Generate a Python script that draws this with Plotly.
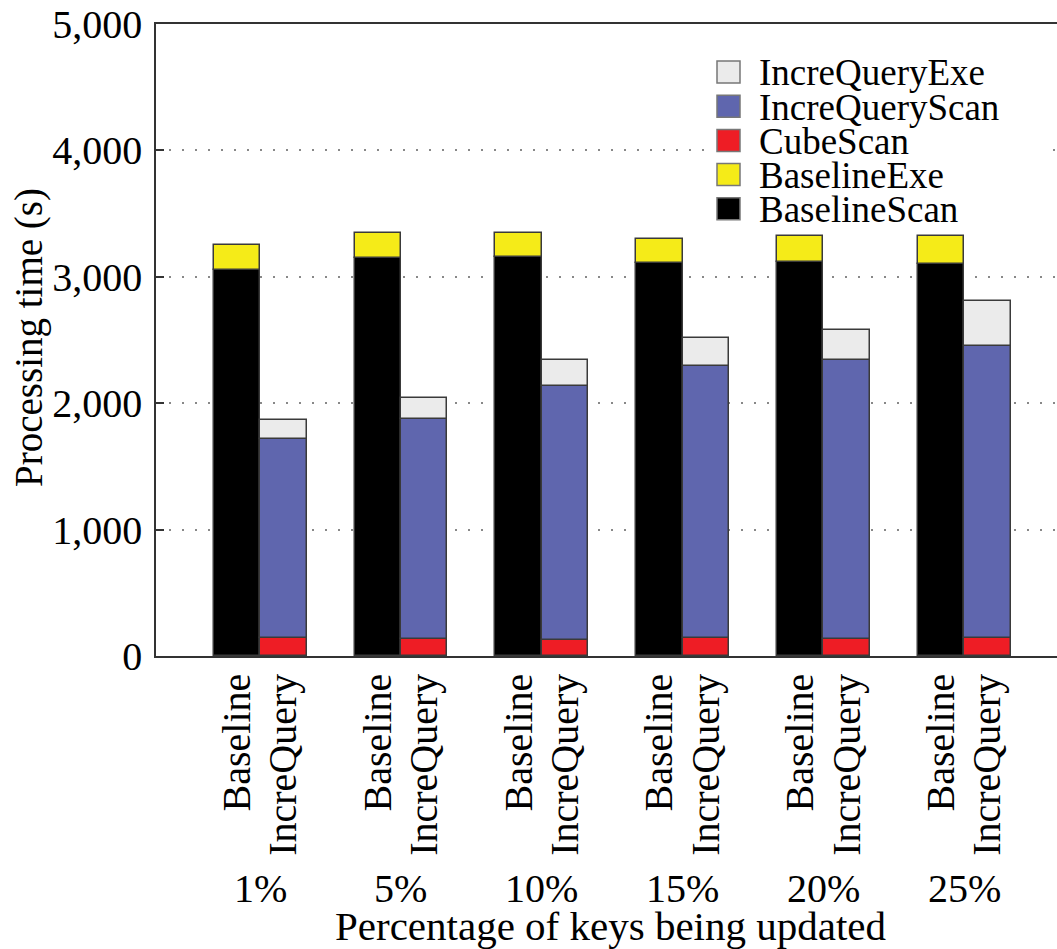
import plotly.graph_objects as go

# Percentage of keys being updated (one group per value)
pcts = ["1%", "5%", "10%", "15%", "20%", "25%"]

# Baseline bar components (seconds)
baseline_scan = [3050, 3150, 3160, 3110, 3120, 3105]
baseline_exe = [205, 195, 190, 190, 205, 215]

# IncreQuery bar components (seconds)
cube_scan = [140, 132, 127, 139, 134, 145]
incre_scan = [1578, 1742, 2011, 2152, 2210, 2304]
incre_exe = [151, 166, 203, 222, 232, 362]

bar_labels = ["Baseline", "IncreQuery"]
y_ticks = [0, 1000, 2000, 3000, 4000, 5000]

colors = {
    "BaselineScan": "#000000",
    "BaselineExe": "#F5EB18",
    "CubeScan": "#EE1D25",
    "IncreQueryScan": "#5F66AE",
    "IncreQueryExe": "#EBEBEB",
}

FONT = "Liberation Serif"
W, H = 1057, 949
L, R, T, B = 156, 0, 24, 293
PW, PH = W - L - R, H - T - B

half = 0.165
bw = 0.33
groups = list(range(len(pcts)))
xb = [g - half for g in groups]
xi = [g + half for g in groups]

fig = go.Figure()
line = dict(color="#3a3a3a", width=1.5)
series = [
    ("BaselineScan", xb, baseline_scan),
    ("BaselineExe", xb, baseline_exe),
    ("CubeScan", xi, cube_scan),
    ("IncreQueryScan", xi, incre_scan),
    ("IncreQueryExe", xi, incre_exe),
]
for name, xs, ys in series:
    fig.add_trace(go.Bar(
        x=xs, y=ys, name=name, width=bw,
        marker=dict(color=colors[name], line=line),
        showlegend=False,
    ))


def px_x(px):
    return (px - L) / PW


def px_y(py):
    return (H - B - py) / PH


shapes = []
annotations = []

# Legend drawn as boxes plus labels, top to bottom
legend_order = ["IncreQueryExe", "IncreQueryScan", "CubeScan", "BaselineExe", "BaselineScan"]
# white panel behind the legend so the grid dots stop at its edge
shapes.append(dict(type="rect", xref="paper", yref="paper",
                   x0=px_x(706), x1=px_x(1045), y0=px_y(226), y1=px_y(52),
                   fillcolor="white", line=dict(width=0), layer="above"))
row0, step = 72, 34.2
for k, name in enumerate(legend_order):
    cy = row0 + k * step
    shapes.append(dict(type="rect", xref="paper", yref="paper",
                       x0=px_x(717), x1=px_x(740), y0=px_y(cy + 11), y1=px_y(cy - 11),
                       fillcolor=colors[name], line=dict(color="#777777", width=1.5),
                       layer="above"))
    annotations.append(dict(text=name, xref="paper", yref="paper",
                            x=px_x(757), y=px_y(cy + 1), xanchor="left", yanchor="middle",
                            showarrow=False, font=dict(family=FONT, size=37, color="black")))

# Group labels under the rotated bar labels
for g, p in zip(groups, pcts):
    annotations.append(dict(text=p, x=g, xref="x", yref="paper", y=px_y(888),
                            xanchor="center", yanchor="middle", showarrow=False,
                            font=dict(family=FONT, size=40, color="black")))

annotations.append(dict(text="Percentage of keys being updated", x=px_x(610), xref="paper",
                        yref="paper", y=px_y(926), xanchor="center", yanchor="middle",
                        showarrow=False, font=dict(family=FONT, size=41, color="black")))
annotations.append(dict(text="Processing time (s)", x=px_x(29), xref="paper",
                        yref="paper", y=px_y(338), xanchor="center", yanchor="middle",
                        textangle=-90, showarrow=False,
                        font=dict(family=FONT, size=39, color="black")))

tickvals = []
ticktext = []
for g in groups:
    tickvals += [g - half, g + half]
    ticktext += bar_labels

fig.update_layout(
    width=W, height=H,
    margin=dict(l=L, r=R, t=T, b=B, pad=0),
    barmode="relative",
    bargap=0,
    plot_bgcolor="white",
    paper_bgcolor="white",
    shapes=shapes,
    annotations=annotations,
    showlegend=False,
    xaxis=dict(
        range=[-0.74, 5.66],
        tickvals=tickvals, ticktext=ticktext, tickangle=-90,
        tickfont=dict(family=FONT, size=40, color="black"),
        ticks="", ticklabelstandoff=0,
        showgrid=False, zeroline=False,
        showline=True, linecolor="#333333", linewidth=1.5, mirror=True,
    ),
    yaxis=dict(
        range=[0, 5000],
        tickvals=y_ticks, ticktext=[f"{v:,}" for v in y_ticks],
        tickfont=dict(family=FONT, size=40, color="black"),
        ticks="inside", ticklen=8, tickcolor="#333333", tickwidth=1.5,
        ticklabelstandoff=4,
        showgrid=True, gridcolor="#888888", gridwidth=2, griddash="2px,11px",
        zeroline=False,
        showline=True, linecolor="#333333", linewidth=1.5,
    ),
)

fig.write_html("out.html")
